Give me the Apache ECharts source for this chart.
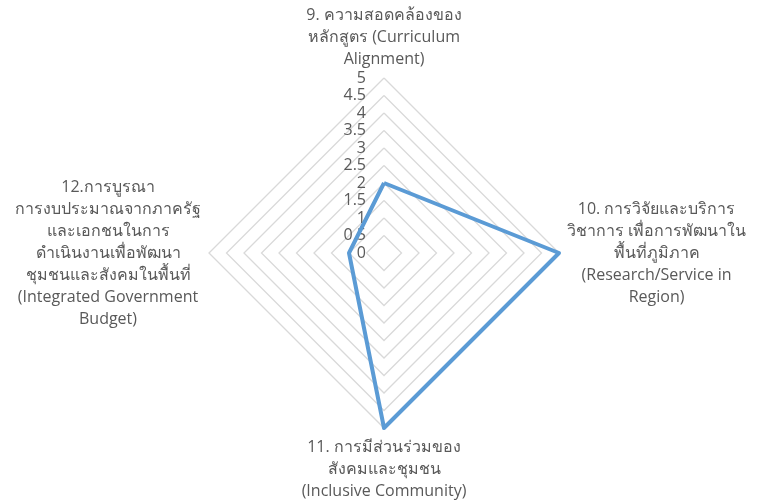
<!DOCTYPE html>
<html><head><meta charset="utf-8">
<script src="https://cdn.jsdelivr.net/npm/echarts@6/dist/echarts.min.js"></script>
<style>html,body{margin:0;padding:0;background:#fff}#c{width:758px;height:504px}</style>
</head><body><div id="c"></div>
<script>
// indicators in ECharts order (counter-clockwise from top): 9, 12, 11, 10
const indicatorNames = [
  ['9. ความสอดคล้องของ', 'หลักสูตร (Curriculum', 'Alignment)'],
  ['12.การบูรณา', 'การงบประมาณจากภาครัฐ', 'และเอกชนในการ', 'ดำเนินงานเพื่อพัฒนา', 'ชุมชนและสังคมในพื้นที่', '(Integrated Government', 'Budget)'],
  ['11. การมีส่วนร่วมของ', 'สังคมและชุมชน', '(Inclusive Community)'],
  ['10. การวิจัยและบริการ', 'วิชาการ เพื่อการพัฒนาใน', 'พื้นที่ภูมิภาค', '(Research/Service in', 'Region)']
];
const values = [2, 1, 5, 5];
const axisMax = 5;
const axisStep = 0.5;

const chart = echarts.init(document.getElementById('c'), null, {renderer: 'canvas'});
const font = '"Open Sans", "Noto Sans", sans-serif';
chart.setOption({
  animation: false,
  radar: {
    center: ['50.66%', '50.2%'],
    radius: 175,
    startAngle: 90,
    shape: 'polygon',
    splitNumber: axisMax / axisStep,
    axisNameGap: 8,
    indicator: indicatorNames.map((n, i) => ({
      name: n.join('\n'), min: 0, max: axisMax,
      axisLabel: i === 0 ? {show: true} : undefined
    })),
    axisName: {
      color: '#595959', fontSize: 16, fontFamily: font, lineHeight: 22,
      formatter: (v) => v.split('\n').map(l => '{c|' + l + '}').join('\n'),
      rich: { c: { align: 'center', color: '#595959', fontSize: 16, fontFamily: font, lineHeight: 22 } }
    },
    axisLine: {show: false},
    axisTick: {show: false},
    axisLabel: {show: false, color: '#595959', fontSize: 16, fontFamily: font, margin: 18,
      formatter: (v) => String(v)},
    splitLine: {lineStyle: {color: '#d9d9d9', width: 1.3}},
    splitArea: {show: false}
  },
  series: [{
    type: 'radar',
    symbol: 'none',
    lineStyle: {color: '#5b9bd5', width: 4},
    data: [{value: values}]
  }]
});
</script></body></html>
